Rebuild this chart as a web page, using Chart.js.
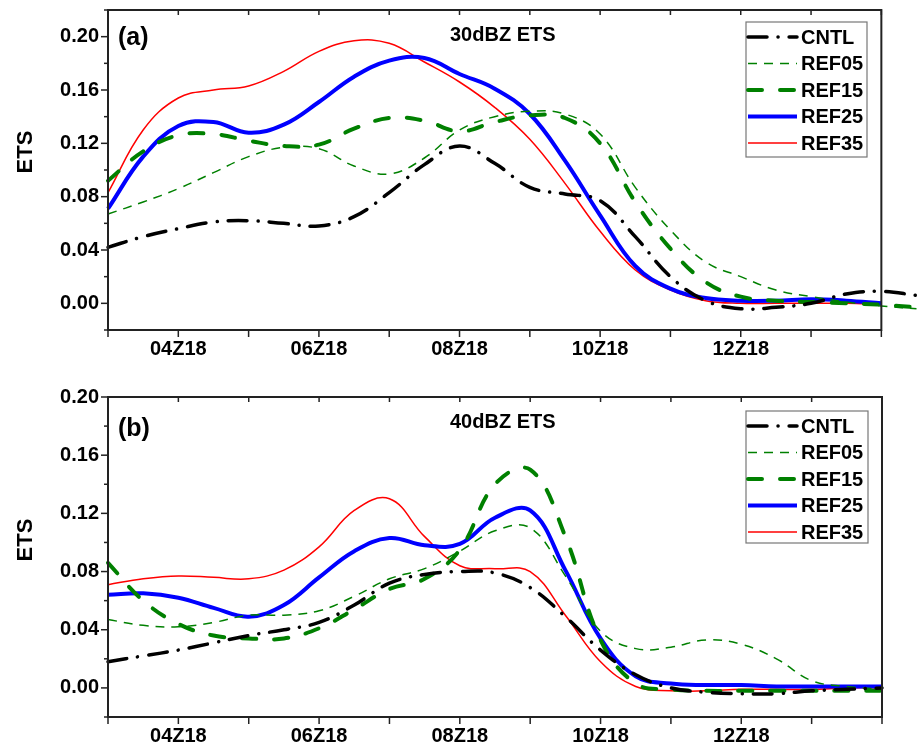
<!DOCTYPE html>
<html>
<head>
<meta charset="utf-8">
<script src="https://cdn.jsdelivr.net/npm/chart.js@4"></script>
<style>
  html, body { margin: 0; padding: 0; background: #fff; }
  #wrap { position: relative; width: 922px; height: 749px; }
  canvas { position: absolute; left: 0; }
  #chartA { top: 0; }
  #chartB { top: 370px; }
</style>
</head>
<body>
<div id="wrap">
  <canvas id="chartA" width="922" height="370"></canvas>
  <canvas id="chartB" width="922" height="379"></canvas>
</div>
<script>
// hours (UTC, day 18); in panel (a) three lines run a half hour past the axis end
const hours = [3, 3.5, 4, 4.5, 5, 5.5, 6, 6.5, 7, 7.5, 8, 8.5, 9, 9.5, 10, 10.5, 11, 11.5, 12, 12.5, 13, 13.5, 14];
const hoursA = hours.concat([14.5]);
const tickHours = [3, 4, 5, 6, 7, 8, 9, 10, 11, 12, 13, 14];
const labelHours = [4, 6, 8, 10, 12];
const yLabelValues = [0, 0.04, 0.08, 0.12, 0.16, 0.20];

const seriesNames = ['CNTL', 'REF05', 'REF15', 'REF25', 'REF35'];

// (a) 30dBZ ETS
const cntlA  = [0.042,0.050,0.056,0.061,0.062,0.060,0.058,0.065,0.083,0.104,0.118,0.105,0.087,0.082,0.077,0.050,0.020,0.002,-0.004,-0.003,0.000,0.007,0.009,0.006];
const ref05A = [0.067,0.076,0.086,0.098,0.110,0.117,0.116,0.103,0.097,0.109,0.130,0.140,0.144,0.142,0.127,0.087,0.055,0.031,0.020,0.010,0.005,0.001,-0.002,-0.004];
const ref15A = [0.092,0.114,0.126,0.127,0.122,0.118,0.119,0.131,0.139,0.137,0.129,0.136,0.141,0.139,0.120,0.076,0.041,0.016,0.005,0.002,0.001,0.000,-0.001,-0.003];
const ref25A = [0.071,0.110,0.133,0.136,0.128,0.134,0.151,0.170,0.182,0.184,0.172,0.161,0.142,0.107,0.066,0.028,0.011,0.004,0.002,0.002,0.003,0.002,0.000];
const ref35A = [0.083,0.130,0.154,0.160,0.163,0.174,0.189,0.197,0.195,0.181,0.166,0.147,0.123,0.090,0.054,0.025,0.010,0.002,0.000,0.000,0.000,0.000,-0.001];

// (b) 40dBZ ETS
const cntlB  = [0.018,0.022,0.026,0.031,0.036,0.040,0.045,0.057,0.072,0.078,0.080,0.079,0.069,0.049,0.026,0.009,0.000,-0.003,-0.004,-0.004,-0.002,-0.001,0.000];
const ref05B = [0.047,0.043,0.042,0.045,0.050,0.050,0.053,0.063,0.075,0.082,0.094,0.108,0.110,0.077,0.039,0.027,0.028,0.033,0.030,0.020,0.005,0.001,-0.001];
const ref15B = [0.086,0.060,0.044,0.036,0.034,0.034,0.041,0.054,0.068,0.075,0.095,0.140,0.150,0.104,0.033,0.003,-0.001,-0.002,-0.002,-0.002,-0.002,-0.002,-0.002];
const ref25B = [0.064,0.065,0.062,0.055,0.049,0.057,0.076,0.094,0.103,0.098,0.099,0.117,0.122,0.081,0.034,0.008,0.003,0.002,0.002,0.001,0.001,0.001,0.001];
const ref35B = [0.071,0.075,0.077,0.076,0.075,0.081,0.097,0.122,0.130,0.104,0.084,0.082,0.080,0.050,0.018,0.001,-0.002,-0.002,-0.001,-0.001,-0.001,0.000,0.000];

const FONT = "'Liberation Sans', Arial, sans-serif";
const GREEN = '#008000';
const lineStyles = [
  { color: '#000000', width: 3.5, dash: [19, 11, 0.1, 11], cap: 'round' },
  { color: GREEN,     width: 1.5, dash: [9, 7],             cap: 'butt' },
  { color: GREEN,     width: 4,   dash: [14, 18],           cap: 'round' },
  { color: '#0000ff', width: 4,   dash: [],                 cap: 'butt' },
  { color: '#ff0000', width: 1.5, dash: [],                 cap: 'butt' }
];

const near = (a, b) => Math.abs(a - b) < 1e-9;
const isYLabel = (v) => yLabelValues.some(l => near(l, v));
const pad2 = (n) => (n < 10 ? '0' : '') + n;

function yTickValues(min, max) {
  const out = [];
  for (let k = Math.round(min * 50); k <= Math.round(max * 50); k++) out.push(k / 50);
  return out;
}

function makeChart(id, cfg) {
  const datasets = seriesNames.map((name, k) => {
    const pts = [];
    cfg.values[k].forEach((v, i) => pts.push({ x: cfg.hours[i], y: v }));
    const s = lineStyles[k];
    return {
      label: name, data: pts,
      borderColor: s.color, borderWidth: s.width, borderDash: s.dash, borderCapStyle: s.cap,
      pointRadius: 0, tension: 0.4, fill: false, clip: false
    };
  });
  const yTicks = yTickValues(cfg.yMin, cfg.yMax);

  // frame (ends at hour 14), tick marks, panel texts and the boxed legend
  const decor = {
    id: 'decor',
    afterDraw(chart) {
      const { ctx, chartArea: a, scales: { x, y } } = chart;
      const left = x.getPixelForValue(3), right = x.getPixelForValue(14);
      ctx.save();
      ctx.strokeStyle = '#222';
      ctx.lineWidth = 1.5;
      ctx.lineCap = 'butt';
      ctx.setLineDash([]);
      const seg = (x1, y1, x2, y2) => { ctx.beginPath(); ctx.moveTo(x1, y1); ctx.lineTo(x2, y2); ctx.stroke(); };
      yTicks.forEach(v => {
        const py = y.getPixelForValue(v);
        seg(left - (isYLabel(v) ? 7 : 4), py, left, py);
      });
      tickHours.forEach(h => {
        const px = x.getPixelForValue(h);
        seg(px, a.bottom, px, a.bottom + 7);
        seg(px, a.top, px, a.top + 5);
      });
      ctx.lineWidth = 2;
      ctx.strokeRect(left, a.top, right - left, a.bottom - a.top);

      ctx.fillStyle = '#000';
      ctx.textBaseline = 'middle';
      ctx.textAlign = 'left';
      ctx.font = 'bold 25px ' + FONT;
      ctx.fillText(cfg.tag, 118, cfg.tagY);
      ctx.font = 'bold 20px ' + FONT;
      ctx.fillText(cfg.title, 450, cfg.titleY);

      ctx.save();
      ctx.translate(26, cfg.etsY);
      ctx.rotate(-Math.PI / 2);
      ctx.textAlign = 'center';
      ctx.font = 'bold 22px ' + FONT;
      ctx.fillText('ETS', 0, 0);
      ctx.restore();

      const L = cfg.legend;
      ctx.fillStyle = '#fff';
      ctx.fillRect(L.left, L.top, L.w, L.h);
      ctx.strokeStyle = '#777';
      ctx.lineWidth = 1.2;
      ctx.strokeRect(L.left, L.top, L.w, L.h);
      chart.data.datasets.forEach((ds, i) => {
        const cy = L.top + 15 + i * 26.5;
        ctx.strokeStyle = ds.borderColor;
        ctx.lineWidth = ds.borderWidth;
        ctx.lineCap = ds.borderCapStyle;
        ctx.setLineDash(ds.borderDash);
        seg(L.left + 2, cy, L.left + 51, cy);
        ctx.setLineDash([]);
        ctx.fillStyle = '#000';
        ctx.font = 'bold 20px ' + FONT;
        ctx.fillText(ds.label, L.left + 55, cy + 1);
      });
      ctx.restore();
    }
  };

  return new Chart(document.getElementById(id), {
    type: 'line',
    data: { datasets },
    options: {
      responsive: false,
      animation: false,
      devicePixelRatio: 1,
      layout: { padding: { top: cfg.padTop, right: cfg.padRight, left: 0, bottom: 0 } },
      plugins: { legend: { display: false }, tooltip: { enabled: false } },
      elements: { line: { capBezierPoints: false } },
      scales: {
        x: {
          type: 'linear', min: 3, max: cfg.xMax,
          afterBuildTicks: s => { s.ticks = tickHours.map(v => ({ value: v })); },
          afterFit: s => { s.height = cfg.xAxisH; s.paddingLeft = 0; s.paddingRight = 0; },
          grid: { display: false, drawTicks: false },
          border: { display: false },
          ticks: {
            autoSkip: false, maxRotation: 0, padding: 7, color: '#000',
            font: { family: FONT, size: 20, weight: 'bold' },
            callback: v => labelHours.includes(v) ? pad2(v) + 'Z18' : ''
          }
        },
        y: {
          min: cfg.yMin, max: cfg.yMax,
          afterBuildTicks: s => { s.ticks = yTicks.map(v => ({ value: v })); },
          afterFit: s => { s.width = 108; s.paddingTop = 0; s.paddingBottom = 0; },
          grid: { display: false, drawTicks: false },
          border: { display: false },
          ticks: {
            autoSkip: false, padding: 9, color: '#000',
            font: { family: FONT, size: 20, weight: 'bold' },
            callback: v => isYLabel(v) ? v.toFixed(2) : ''
          }
        }
      }
    },
    plugins: [decor]
  });
}

// panel (a): x range runs to 14.5 so the overhanging tails are drawn; frame stops at 14
makeChart('chartA', {
  hours: hoursA,
  values: [cntlA, ref05A, ref15A, ref25A, ref35A],
  xMax: 14.5,
  yMin: -0.02, yMax: 0.22,
  padTop: 10, padRight: 5.5, xAxisH: 40,
  tag: '(a)', tagY: 38, title: '30dBZ ETS', titleY: 35, etsY: 152,
  legend: { left: 746, top: 22, w: 121, h: 135 }
});

makeChart('chartB', {
  hours: hours,
  values: [cntlB, ref05B, ref15B, ref25B, ref35B],
  xMax: 14,
  yMin: -0.02, yMax: 0.20,
  padTop: 27, padRight: 40, xAxisH: 32,
  tag: '(b)', tagY: 59, title: '40dBZ ETS', titleY: 52, etsY: 170,
  legend: { left: 746, top: 41, w: 122, h: 132 }
});
</script>
</body>
</html>
